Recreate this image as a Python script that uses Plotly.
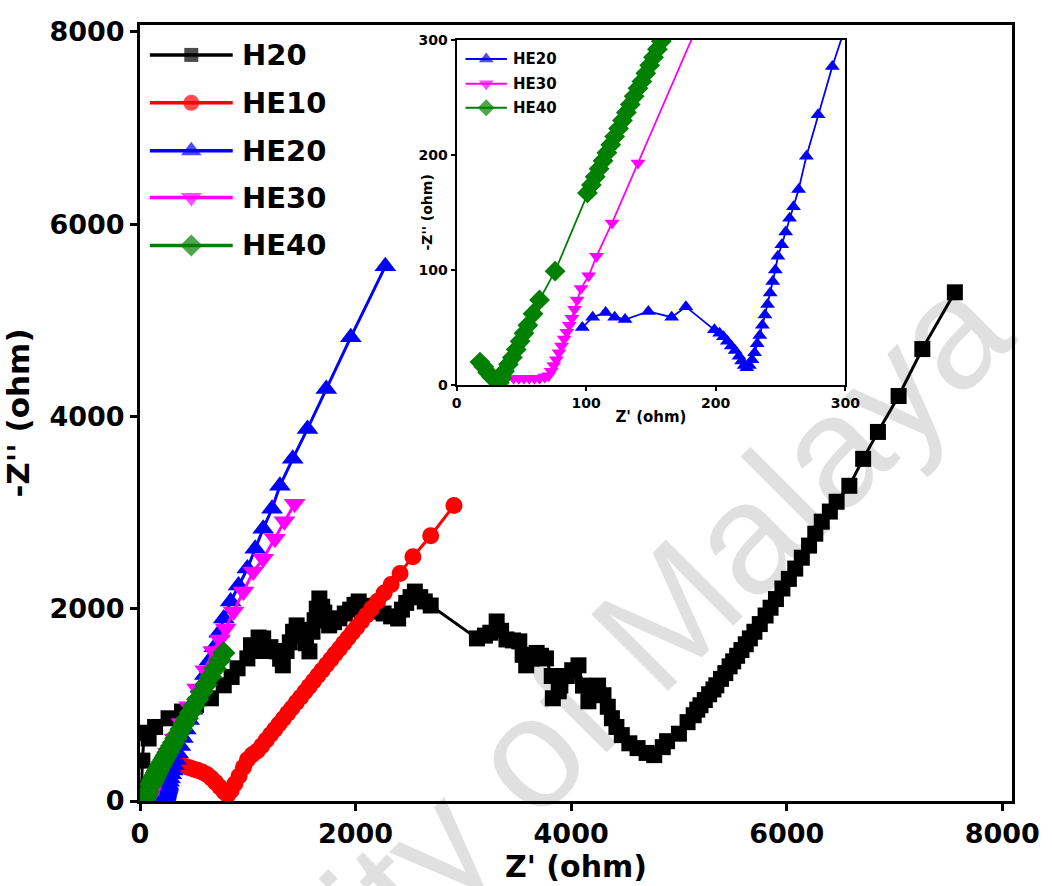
import plotly.graph_objects as go

# ---------------- data ----------------
series_names = ["H20", "HE10", "HE20", "HE30", "HE40"]

h20_x = [15, 22, 40, 80, 140, 265, 390, 520, 658, 777, 850, 905, 996, 1030, 1060, 1100, 1143, 1180, 1210,
         1270, 1300, 1325, 1360, 1390, 1420, 1453, 1480, 1510, 1540, 1572, 1600, 1620, 1640, 1664, 1690,
         1710, 1735, 1755, 1800, 1850, 1900, 1950, 1990, 2029, 2080, 2140, 2200, 2260, 2330, 2395, 2430,
         2470, 2510, 2550, 2600, 2642, 2697, 3126, 3200, 3250, 3309, 3350, 3400, 3460, 3519, 3550, 3583,
         3630, 3680, 3720, 3766, 3820, 3885, 3830, 3900, 3960, 4010, 4068, 4110, 4160, 4200, 4250, 4300,
         4340, 4378, 4420, 4470, 4540, 4616, 4700, 4771, 4850, 4890, 5000, 5080, 5137, 5170, 5200, 5240,
         5280, 5320, 5347, 5390, 5430, 5470, 5503, 5540, 5580, 5620, 5658, 5700, 5750, 5804, 5850, 5900,
         5960, 6020, 6079, 6140, 6207, 6265, 6325, 6400, 6463, 6581, 6709, 6846, 7038, 7258, 7560]
h20_y = [130, 420, 710, 650, 770, 860, 930, 1000, 1068, 1203, 1290, 1380, 1483, 1620, 1560, 1700, 1691, 1560, 1600,
         1556, 1480, 1411, 1560, 1650, 1760, 1826, 1780, 1720, 1640, 1556, 1760, 1880, 2000, 2106, 2020,
         1960, 1880, 1826, 1860, 1900, 1950, 1990, 2040, 2075, 2030, 2000, 1970, 1950, 1920, 1898, 1990,
         2060, 2120, 2178, 2120, 2075, 2033, 1691, 1720, 1750, 1867, 1770, 1680, 1670, 1660, 1520, 1411,
         1480, 1540, 1510, 1483, 1300, 1141, 1068, 1200, 1300, 1360, 1411, 1200, 1037, 1120, 1200, 1100,
         980, 861, 770, 685, 600, 550, 500, 477, 560, 622, 700, 820, 892, 950, 996, 1050,
         1110, 1160, 1203, 1270, 1330, 1400, 1452, 1510, 1570, 1630, 1691, 1760, 1840, 1929, 2010, 2100,
         2210, 2310, 2417, 2530, 2656, 2780, 2905, 3010, 3112, 3278, 3558, 3838, 4212, 4700, 5290]

he10_x = [384, 420, 460, 500, 540, 580, 620, 660, 700, 740, 780, 813, 845, 880, 920, 960, 996, 1040, 1088,
          1130, 1170, 1210, 1250, 1290, 1330, 1370, 1410, 1450, 1490, 1530, 1570, 1610, 1650, 1690, 1730,
          1770, 1810, 1850, 1890, 1930, 1970, 2010, 2055, 2100, 2150, 2205, 2265, 2330, 2413, 2532, 2697, 2913]
he10_y = [373, 360, 345, 330, 318, 300, 275, 240, 195, 145, 95, 62, 110, 180, 260, 350, 430, 480, 519,
          575, 632, 688, 744, 800, 856, 912, 968, 1024, 1080, 1136, 1192, 1248, 1304, 1360, 1416,
          1472, 1528, 1584, 1640, 1696, 1752, 1808, 1870, 1932, 2002, 2078, 2162, 2252, 2365, 2541, 2759, 3073]

he20_x = [97, 105, 115, 122, 130, 148, 166, 177, 199, 203, 206, 209, 212, 215, 218, 220, 222, 224, 226, 228,
          230, 232, 234, 236, 238, 240, 242, 244, 246, 248, 251, 254, 257, 260, 264, 270, 279, 290, 302, 316,
          333, 352, 374, 398, 425, 455, 488, 523, 561, 602, 645, 690, 735, 777, 841, 914, 996, 1069, 1143,
          1225, 1298, 1417, 1554, 1728, 1956, 2276]
he20_y = [50, 59, 63, 59, 57, 64, 59, 68, 48, 45, 42, 38, 34, 30, 25, 21, 17, 15, 17, 22,
          28, 36, 43, 52, 61, 70, 80, 90, 100, 112, 122, 133, 145, 155, 170, 199, 235, 277, 318, 370,
          430, 497, 572, 654, 744, 843, 950, 1063, 1183, 1310, 1460, 1600, 1750, 1898, 2075, 2241, 2417, 2624, 2832,
          3039, 3278, 3558, 3869, 4284, 4824, 5560]

he30_x = [44, 48, 52, 56, 60, 64, 68, 71, 73, 75, 77, 79, 81, 83, 85, 87, 89, 91, 93, 96, 102, 108, 120, 140,
          205, 260, 320, 385, 455, 530, 605, 680, 740, 795, 868, 960, 1051, 1143, 1252, 1340, 1435]
he30_y = [6, 6, 6, 6, 6, 6, 7, 8, 12, 17, 22, 28, 34, 40, 46, 52, 58, 66, 74, 84, 95, 112, 141, 193,
          362, 500, 650, 810, 985, 1170, 1360, 1560, 1680, 1795, 1971, 2178, 2386, 2520, 2728, 2910, 3091]

he40_x = [18, 21, 24, 27, 30, 33, 35, 37, 40, 43, 46, 49, 52, 55, 59, 64, 76, 101, 104, 107, 110, 113, 116,
          119, 122, 125, 128, 131, 134, 137, 140, 143, 146, 149, 152, 155, 158, 161, 165, 170, 176, 183, 191,
          200, 210, 221, 233, 246, 260, 276, 293, 312, 333, 356, 381, 408, 437, 468, 501, 536, 573, 612, 653,
          696, 740, 777]
he40_y = [20, 16, 11, 7, 4, 2, 6, 12, 18, 24, 31, 38, 45, 52, 62, 74, 99, 167, 174, 181, 188, 195, 202,
          209, 216, 223, 230, 237, 244, 251, 258, 264, 271, 278, 285, 292, 299, 306, 315, 325, 337, 351, 367,
          385, 405, 427, 451, 477, 505, 537, 571, 609, 651, 697, 747, 801, 859, 921, 987, 1057, 1131, 1209, 1291,
          1377, 1465, 1540]

main_ticks = [0, 2000, 4000, 6000, 8000]
inset_ticks = [0, 100, 200, 300]
inset_names = ["HE20", "HE30", "HE40"]

# ---------------- styles ----------------
FONT = "DejaVu Sans"
colors = {"H20": "#000000", "HE10": "#ff0000", "HE20": "#0000ff", "HE30": "#ff00ff", "HE40": "#008000"}
symbols = {"H20": "square", "HE10": "circle", "HE20": "triangle-up", "HE30": "triangle-down", "HE40": "diamond"}
msize = {"H20": 16, "HE10": 17, "HE20": 19, "HE30": 19, "HE40": 18}
leg_size = {"H20": 14, "HE10": 16, "HE20": 18, "HE30": 18, "HE40": 17}
data = {"H20": (h20_x, h20_y), "HE10": (he10_x, he10_y), "HE20": (he20_x, he20_y),
        "HE30": (he30_x, he30_y), "HE40": (he40_x, he40_y)}

fig = go.Figure()

# main plot
for name in series_names:
    xs, ys = data[name]
    fig.add_trace(go.Scatter(
        x=xs, y=ys, mode="lines+markers", name=name, showlegend=False,
        line=dict(color=colors[name], width=3),
        marker=dict(symbol=symbols[name], size=msize[name], color=colors[name], line=dict(width=0)),
        xaxis="x", yaxis="y"))

# inset
inset_msize = {"HE20": 13, "HE30": 13, "HE40": 16}
for name in inset_names:
    xs, ys = data[name]
    fig.add_trace(go.Scatter(
        x=xs, y=ys, mode="lines+markers", name=name, showlegend=False,
        line=dict(color=colors[name], width=1.8),
        marker=dict(symbol=symbols[name], size=inset_msize[name], color=colors[name], line=dict(width=0)),
        xaxis="x2", yaxis="y2"))

# custom legends, drawn on pixel-unit helper axes (x3/y3 over main, x4/y4 over inset)
main_leg_rows = [55, 103, 151, 198, 246]
for name, yc in zip(series_names, main_leg_rows):
    fig.add_trace(go.Scatter(
        x=[148, 190, 232], y=[yc, yc, yc], mode="lines+markers", showlegend=False, hoverinfo="skip",
        line=dict(color=colors[name], width=3.5),
        marker=dict(symbol=symbols[name], size=[0, leg_size[name], 0], color=colors[name], line=dict(width=0)),
        xaxis="x3", yaxis="y3"))
inset_leg_rows = [59, 84, 108]
for name, yc in zip(inset_names, inset_leg_rows):
    fig.add_trace(go.Scatter(
        x=[468, 489, 510], y=[yc, yc, yc], mode="lines+markers", showlegend=False, hoverinfo="skip",
        line=dict(color=colors[name], width=2),
        marker=dict(symbol=symbols[name], size=[0, 13, 0], color=colors[name], line=dict(width=0)),
        xaxis="x4", yaxis="y4"))

annotations = []
for name, yc in zip(series_names, main_leg_rows):
    annotations.append(dict(x=239, y=yc, xref="x3", yref="y3", text=name, showarrow=False,
                            xanchor="left", yanchor="middle",
                            font=dict(family=FONT, size=29, color="black", weight="bold")))
for name, yc in zip(inset_names, inset_leg_rows):
    annotations.append(dict(x=514, y=yc, xref="x4", yref="y4", text=name, showarrow=False,
                            xanchor="left", yanchor="middle",
                            font=dict(family=FONT, size=15, color="black", weight="bold")))
# inset y title
annotations.append(dict(x=428, y=213, xref="x3", yref="y3", text="-Z'' (ohm)", showarrow=False,
                        textangle=-90, xanchor="center", yanchor="middle",
                        font=dict(family=FONT, size=14, color="black", weight="bold")))
# watermark (paper coordinates), partly running off the page as in the reference
annotations.append(dict(x=0.387, y=-0.004, xref="paper", yref="paper", text="University of Malaya",
                        showarrow=False, textangle=-45, xanchor="center", yanchor="middle",
                        font=dict(family="Liberation Sans", size=158, color="rgba(0,0,0,0.12)")))

tick_main = dict(family=FONT, size=27, color="black", weight="bold")
tick_inset = dict(family=FONT, size=14, color="black", weight="bold")

fig.update_layout(
    width=1052, height=886,
    margin=dict(l=138, r=30, t=25, b=83),
    paper_bgcolor="white", plot_bgcolor="white",
    showlegend=False,
    annotations=annotations,
    xaxis=dict(range=[0, 8090], tickvals=main_ticks, showgrid=False, zeroline=False,
               showline=True, linecolor="black", linewidth=3, mirror=True,
               ticks="outside", ticklen=7, tickwidth=3, tickcolor="black", tickfont=tick_main,
               title=dict(text="Z' (ohm)", font=dict(family=FONT, size=30, color="black", weight="bold"),
                          standoff=4),
               domain=[0, 1], anchor="y"),
    yaxis=dict(range=[0, 8070], tickvals=main_ticks, showgrid=False, zeroline=False,
               showline=True, linecolor="black", linewidth=3, mirror=True,
               ticks="outside", ticklen=7, tickwidth=3, tickcolor="black", tickfont=tick_main,
               title=dict(text="-Z'' (ohm)", font=dict(family=FONT, size=31, color="black", weight="bold"),
                          standoff=16),
               domain=[0, 1], anchor="x"),
    xaxis2=dict(range=[0, 300], tickvals=inset_ticks, showgrid=False, zeroline=False,
                showline=True, linecolor="black", linewidth=2, mirror=True,
                ticks="outside", ticklen=4, tickwidth=2, tickcolor="black", tickfont=tick_inset,
                title=dict(text="Z' (ohm)", font=dict(family=FONT, size=15, color="black", weight="bold"),
                           standoff=2),
                domain=[0.3631, 0.8088], anchor="y2"),
    yaxis2=dict(range=[0, 300], tickvals=inset_ticks, showgrid=False, zeroline=False,
                showline=True, linecolor="black", linewidth=2, mirror=True,
                ticks="outside", ticklen=4, tickwidth=2, tickcolor="black", tickfont=tick_inset,
                domain=[0.536, 0.9807], anchor="x2"),
    xaxis3=dict(range=[138, 1022], overlaying="x", visible=False, anchor="y3"),
    yaxis3=dict(range=[803, 25], overlaying="y", visible=False, anchor="x3"),
    xaxis4=dict(range=[459, 853], overlaying="x2", visible=False, anchor="y4"),
    yaxis4=dict(range=[386, 40], overlaying="y2", visible=False, anchor="x4"),
)

fig.write_html("out.html")
